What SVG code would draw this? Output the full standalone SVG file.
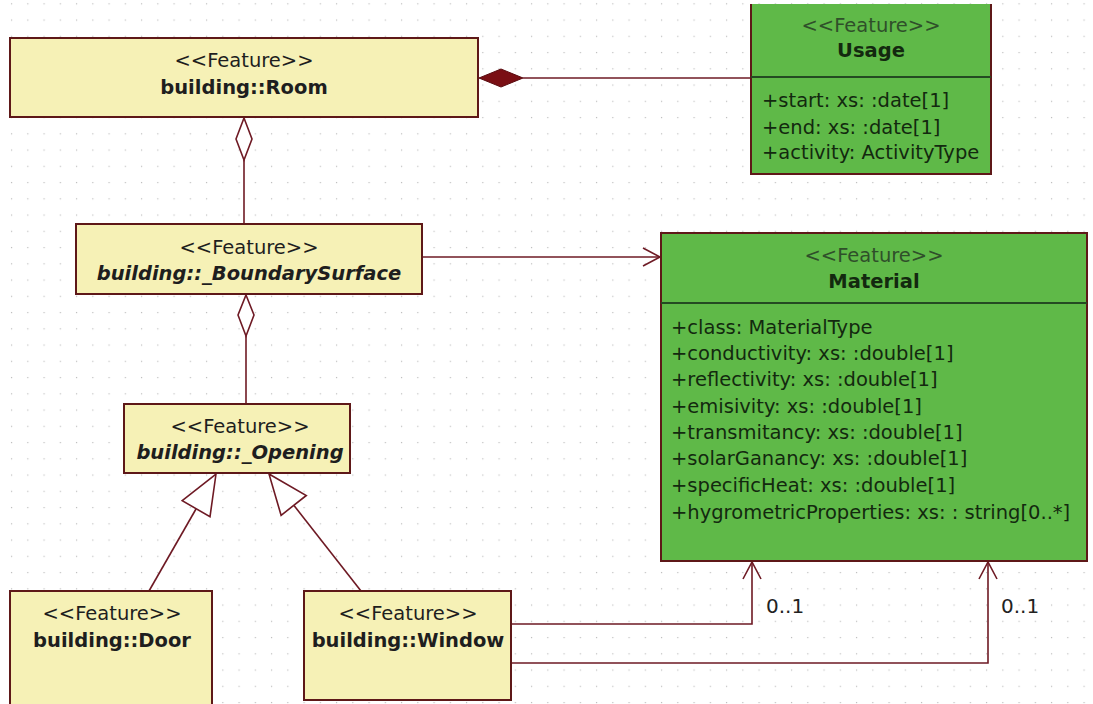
<svg xmlns="http://www.w3.org/2000/svg" width="1093" height="704" viewBox="0 0 1093 704">
  <style>
    text { font-family: "DejaVu Sans", Verdana, sans-serif; font-size: 19.5px; fill: #1e1e1e; }
    .st { text-anchor: middle; }
    .nm { text-anchor: middle; font-weight: bold; }
    .ab { font-style: italic; }
    .gst { fill: #2f4f2a; }
    .gtx { fill: #13290f; }
    .yel { fill: #f6f1b6; stroke: #5e1818; stroke-width: 2; }
    .grn { fill: #5fb948; stroke: #5e1818; stroke-width: 2; }
    .sep { stroke: #244a22; stroke-width: 2; }
    .edge { fill: none; stroke: #6e1a24; stroke-width: 1.6; }
    .head { fill: none; stroke: #6e1a24; stroke-width: 1.6; }
    .hollow { fill: #ffffff; stroke: #6e1a24; stroke-width: 1.6; }
    .filled { fill: #7a0f14; stroke: #5a0c10; stroke-width: 1; }
    .lbl { font-size: 20px; fill: #222; }
  </style>
  <defs>
    <pattern id="grid" patternUnits="userSpaceOnUse" x="3.375" y="11.875" width="16.25" height="16.25">
      <rect x="7.6" y="7.6" width="1.2" height="1.2" fill="#c0c0c0"/>
    </pattern>
    <marker id="open" viewBox="0 0 20 20" refX="18" refY="10" markerWidth="20" markerHeight="20" markerUnits="userSpaceOnUse" orient="auto">
      <path d="M1,1 L18,10 L1,19" class="head"/>
    </marker>
  </defs>

  <!-- canvas with dotted grid -->
  <rect width="1093" height="704" fill="#ffffff"/>
  <rect width="1093" height="704" fill="url(#grid)"/>

  <!-- connectors -->
  <g id="connectors">
    <!-- Room composition of Usage -->
    <line x1="523" y1="78" x2="751" y2="78" class="edge"/>
    <polygon points="479,78 501,69 523,78 501,87" class="filled"/>
    <!-- Room aggregates BoundarySurface -->
    <line x1="244" y1="160" x2="244" y2="224" class="edge"/>
    <polygon points="244,118 252,139 244,160 236,139" class="hollow"/>
    <!-- BoundarySurface aggregates Opening -->
    <line x1="246" y1="336" x2="246" y2="404" class="edge"/>
    <polygon points="246,295 254,315 246,336 238,315" class="hollow"/>
    <!-- BoundarySurface to Material -->
    <line x1="422" y1="257" x2="660" y2="257" class="edge" marker-end="url(#open)"/>
    <!-- Door generalizes Opening -->
    <line x1="149" y1="591" x2="196" y2="509" class="edge"/>
    <polygon points="216,474 210,516.7 182.2,500.7" class="hollow"/>
    <!-- Window generalizes Opening -->
    <line x1="361" y1="591" x2="294" y2="505.5" class="edge"/>
    <polygon points="269,474 306.3,495.5 281.1,515.3" class="hollow"/>
    <!-- Window to Material (two associations) -->
    <polyline points="511,624 752,624 752,562" class="edge" marker-end="url(#open)"/>
    <polyline points="511,663 988,663 988,562" class="edge" marker-end="url(#open)"/>
    <text x="766" y="613" class="lbl">0..1</text>
    <text x="1001" y="613" class="lbl">0..1</text>
  </g>

  <!-- building::Room -->
  <g id="room">
    <rect x="10" y="38" width="468" height="79" class="yel"/>
    <text x="244" y="67" class="st">&lt;&lt;Feature&gt;&gt;</text>
    <text x="244" y="94" class="nm">building::Room</text>
  </g>

  <!-- Usage -->
  <g id="usage">
    <rect x="751" y="4" width="240" height="170" fill="#5fb948"/>
    <path d="M751,4 V174 H991 V4" fill="none" stroke="#5e1818" stroke-width="2"/>
    <line x1="751" y1="77" x2="991" y2="77" class="sep"/>
    <text x="871" y="32" class="st gst">&lt;&lt;Feature&gt;&gt;</text>
    <text x="871" y="57" class="nm gtx">Usage</text>
    <text x="762" y="107" class="gtx">+start: xs: :date[1]</text>
    <text x="762" y="134" class="gtx">+end: xs: :date[1]</text>
    <text x="762" y="159" class="gtx">+activity: ActivityType</text>
  </g>

  <!-- building::_BoundarySurface -->
  <g id="boundary-surface">
    <rect x="76" y="224" width="346" height="70" class="yel"/>
    <text x="249" y="254" class="st">&lt;&lt;Feature&gt;&gt;</text>
    <text x="249" y="280" class="nm ab">building::_BoundarySurface</text>
  </g>

  <!-- Material -->
  <g id="material">
    <rect x="661" y="233" width="426" height="328" class="grn"/>
    <line x1="661" y1="303" x2="1087" y2="303" class="sep"/>
    <text x="874" y="262" class="st gst">&lt;&lt;Feature&gt;&gt;</text>
    <text x="874" y="288" class="nm gtx">Material</text>
    <text x="671" y="334" class="gtx">+class: MaterialType</text>
    <text x="671" y="360" class="gtx">+conductivity: xs: :double[1]</text>
    <text x="671" y="386" class="gtx">+reflectivity: xs: :double[1]</text>
    <text x="671" y="413" class="gtx">+emisivity: xs: :double[1]</text>
    <text x="671" y="439" class="gtx">+transmitancy: xs: :double[1]</text>
    <text x="671" y="465" class="gtx">+solarGanancy: xs: :double[1]</text>
    <text x="671" y="492" class="gtx">+specificHeat: xs: :double[1]</text>
    <text x="671" y="519" class="gtx">+hygrometricProperties: xs: : string[0..*]</text>
  </g>

  <!-- building::_Opening -->
  <g id="opening">
    <rect x="124" y="404" width="226" height="69" class="yel"/>
    <text x="240" y="433" class="st">&lt;&lt;Feature&gt;&gt;</text>
    <text x="240" y="459" class="nm ab">building::_Opening</text>
  </g>

  <!-- building::Door -->
  <g id="door">
    <rect x="10" y="591" width="202" height="120" class="yel"/>
    <text x="112" y="620" class="st">&lt;&lt;Feature&gt;&gt;</text>
    <text x="112" y="647" class="nm">building::Door</text>
  </g>

  <!-- building::Window -->
  <g id="window">
    <rect x="304" y="591" width="207" height="109" class="yel"/>
    <text x="408" y="620" class="st">&lt;&lt;Feature&gt;&gt;</text>
    <text x="408" y="647" class="nm">building::Window</text>
  </g>
</svg>
